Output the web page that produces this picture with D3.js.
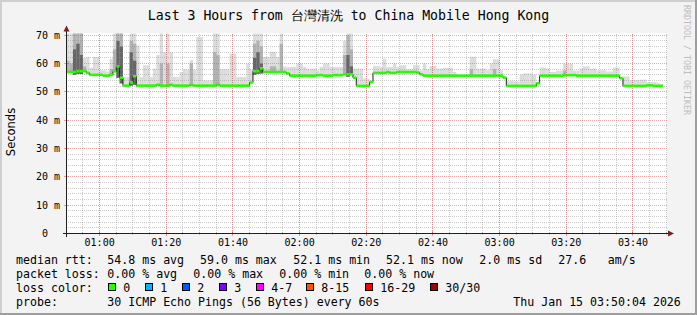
<!DOCTYPE html>
<html>
<head>
<meta charset="utf-8">
<script src="https://cdn.jsdelivr.net/npm/d3@7"></script>
<style>
  body { margin: 0; background: #f3f3f3; }
  svg { display: block; }
  text { font-family: "DejaVu Sans Mono", monospace; fill: #000; }
</style>
</head>
<body>
<svg width="697" height="315"></svg>
<script>
// time window: 00:50 - 03:50, one value per minute
const START = new Date(2026, 0, 15, 0, 50);
const END = new Date(2026, 0, 15, 3, 50);

// median rtt per minute (ms)
const median = [
  57.0, 57.0, 57.0, 57.3, 57.3, 57.3, 56.7, 56.0, 56.0, 56.0,
  56.0, 55.7, 55.7, 56.0, 57.2, 59.0, 55.0, 52.2, 52.2, 53.3,
  55.5, 52.2, 52.2, 52.2, 52.2, 52.2, 52.2, 52.5, 52.2, 52.2,
  52.2, 52.5, 52.2, 52.2, 52.2, 52.2, 52.2, 52.5, 52.2, 52.2,
  52.2, 52.2, 52.2, 52.2, 52.2, 52.5, 52.2, 52.2, 52.2, 52.2,
  52.2, 52.2, 52.2, 52.2, 52.2, 53.3, 57.3, 57.3, 58.3, 57.0,
  57.0, 57.0, 57.0, 57.0, 57.0, 57.0, 56.5, 55.7, 55.7, 55.7,
  55.7, 55.7, 55.7, 55.7, 55.7, 55.9, 55.9, 55.7, 55.7, 55.7,
  55.9, 55.9, 55.9, 56.2, 56.2, 56.2, 55.0, 52.1, 52.1, 52.1,
  52.1, 53.5, 56.7, 56.7, 56.7, 56.7, 57.0, 56.7, 56.7, 57.0,
  57.0, 57.0, 57.0, 57.0, 57.0, 56.8, 56.2, 55.7, 55.7, 55.7,
  55.7, 55.7, 55.7, 55.7, 55.7, 55.7, 55.7, 55.7, 55.7, 55.7,
  55.7, 55.7, 55.7, 55.7, 55.7, 55.7, 55.7, 55.7, 55.7, 55.7,
  55.7, 55.0, 52.1, 52.1, 52.1, 52.1, 52.1, 52.1, 52.1, 52.1,
  52.1, 53.0, 55.7, 55.7, 55.7, 55.7, 55.7, 55.7, 55.7, 55.9,
  55.9, 55.9, 55.9, 55.7, 55.7, 55.7, 55.7, 55.7, 55.7, 55.7,
  55.7, 55.7, 55.7, 55.7, 55.7, 55.7, 54.8, 52.1, 52.1, 52.1,
  52.1, 52.1, 52.1, 52.1, 52.3, 52.3, 52.1, 52.1, 52.1
];

// top of the light smoke (slowest pings) per minute
const smokeHi = [
  70.6, 70.6, 71, 71, 71, 62, 62.3, 58.5, 62.3, 62.3,
  57.6, 57.6, 57.2, 61.7, 71, 71, 71, 55.3, 55.3, 71,
  71, 66.4, 55.3, 59.4, 59.4, 55.3, 58.2, 63, 70.6, 64,
  70.6, 64, 55.3, 55.3, 57, 57.9, 57.9, 61.2, 57.9, 69.4,
  69.4, 54, 54, 54, 70.6, 70.6, 58, 58, 58, 63.5,
  63.5, 55.3, 55.3, 55.3, 60, 58, 71, 71, 71, 62.3,
  62.3, 64.1, 64.1, 62.3, 71, 59, 58.8, 58.8, 58.8, 60,
  60, 58.8, 58.2, 58.2, 58.2, 57.5, 58.8, 60, 60, 58.8,
  58.8, 58.8, 58.8, 68, 71, 71, 58.2, 58.2, 58.2, 54.7,
  54.7, 53.5, 59.1, 59.1, 58.8, 61.7, 58.8, 58.8, 60, 58.8,
  59.4, 59.4, 58, 58, 59.4, 59.4, 57.6, 60, 58, 59.1,
  59.1, 58.2, 58.2, 58.5, 58.5, 58.5, 57, 56, 56, 56,
  56, 62.4, 62.4, 58.2, 58.2, 58.2, 57.6, 60, 61.5, 61.5,
  57.6, 55.5, 53.9, 53.9, 53.8, 53.7, 56.1, 56.5, 56.5, 56.5,
  56.1, 53.5, 58.6, 58.6, 58.2, 57, 57, 57.5, 57.5, 60,
  60, 60, 57.5, 57.5, 58.2, 59, 59, 58.2, 58.2, 57.5,
  57.6, 57.6, 57.2, 57.2, 58.6, 58.6, 55.3, 55.5, 55.5, 54.1,
  54.1, 54.3, 54.3, 54.3, 53.5, 53.5, 53.5, 53.2, 52.8
];

// [minute, top] of the medium and dark smoke bands
const smokeMid = [
  [0, 61], [1, 60], [2, 71], [3, 71], [4, 71], [5, 59], [13, 58], [14, 65],
  [15, 71], [16, 71], [19, 68], [20, 67], [28, 60], [30, 60], [37, 60],
  [44, 64], [45, 63], [56, 67], [57, 68], [58, 66], [61, 59], [62, 59],
  [64, 67], [83, 63], [84, 70], [85, 65], [121, 58], [128, 58], [149, 57.5]
];
const smokeDark = [
  [2, 65], [3, 67], [4, 63], [15, 68], [16, 66], [19, 64], [20, 61],
  [56, 62], [57, 64], [58, 60], [84, 63], [85, 59]
];
// [minute, bottom] where the fastest pings sit below the median
const smokeLo = [
  [2, 56], [3, 56.3], [4, 56.3], [15, 55], [16, 53], [19, 52.2], [20, 52.5],
  [56, 56], [57, 56.3], [58, 56.5], [84, 55.3]
];

const yTicks = [0, 10, 20, 30, 40, 50, 60, 70];
const yTickLabels = ["0", "10 m", "20 m", "30 m", "40 m", "50 m", "60 m", "70 m"];

const lossLabels = ["0", "1", "2", "3", "4-7", "8-15", "16-29", "30/30"];
const lossColors = ["#26ff00", "#00b8ff", "#0059ff", "#7e00ff", "#ff00ff", "#ff5500", "#ff0000", "#a00000"];

const rttStats = ["54.8 ms avg", "59.0 ms max", "52.1 ms min", "52.1 ms now", "2.0 ms sd", "27.6", "am/s"];
const lossStats = ["0.00 % avg", "0.00 % max", "0.00 % min", "0.00 % now"];
const probeText = "30 ICMP Echo Pings (56 Bytes) every 60s";
const dateText = "Thu Jan 15 03:50:04 2026";

const svg = d3.select("svg");
const W = 697, H = 315;
const plot = { left: 66.3, right: 666.3, top: 33.5, bottom: 233.5 };

const xScale = d3.scaleTime().domain([START, END]).range([plot.left, plot.right]);
const yScale = d3.scaleLinear().domain([0, 70.6]).range([plot.bottom, plot.top]);
const minute = (m) => new Date(START.getTime() + m * 60000);
const xm = (m) => xScale(minute(m));
const px = (v) => Math.floor(v) + 0.5;

// background + 3d frame
svg.append("rect").attr("width", W).attr("height", H).attr("fill", "#f3f3f3");
svg.append("rect").attr("width", W).attr("height", 2).attr("fill", "#cfcfcf");
svg.append("rect").attr("width", 2).attr("height", H).attr("fill", "#cfcfcf");
svg.append("rect").attr("y", H - 2).attr("width", W).attr("height", 2).attr("fill", "#9e9e9e");
svg.append("rect").attr("x", W - 2).attr("width", 2).attr("height", H).attr("fill", "#9e9e9e");

// canvas
svg.append("rect")
  .attr("x", 66).attr("y", 33)
  .attr("width", 601).attr("height", 201)
  .attr("fill", "#fff");

// smoke
const g = svg.append("g");
const loOf = new Map(smokeLo);
const band = (list, color) => {
  g.append("g").selectAll("rect")
    .data(list)
    .enter()
    .append("rect")
    .attr("x", (d) => xm(d[0]))
    .attr("width", (d) => xm(d[0] + 1) - xm(d[0]))
    .attr("y", (d) => yScale(Math.min(d[1], 70.6)))
    .attr("height", (d) => {
      const lo = loOf.has(d[0]) ? loOf.get(d[0]) : median[d[0]];
      return Math.max(0, yScale(lo) - yScale(Math.min(d[1], 70.6)));
    })
    .attr("fill", color);
};
band(smokeHi.map((v, i) => [i, v]), "#dcdcdc");
band(smokeMid, "#b2b2b2");
band(smokeDark, "#666666");

// grid
const grid = svg.append("g").attr("shape-rendering", "crispEdges");
const minorX = d3.timeMinute.every(5).range(minute(5), minute(181));
const majorX = d3.timeMinute.every(20).range(minute(10), END);
const minorY = d3.range(2, 71, 2);
const gridGray = "rgba(143,143,143,0.45)";
const gridRed = "rgba(222,80,80,0.5)";

grid.selectAll(".gx").data(minorX).enter().append("line")
  .attr("x1", (d) => px(xScale(d))).attr("x2", (d) => px(xScale(d)))
  .attr("y1", plot.top).attr("y2", plot.bottom)
  .attr("stroke", gridGray).attr("stroke-dasharray", "1,1");
grid.selectAll(".gy").data(minorY.filter((d) => d % 10 !== 0)).enter().append("line")
  .attr("y1", (d) => px(yScale(d))).attr("y2", (d) => px(yScale(d)))
  .attr("x1", plot.left).attr("x2", plot.right + 1)
  .attr("stroke", gridGray).attr("stroke-dasharray", "1,1");
grid.selectAll(".mx").data(majorX).enter().append("line")
  .attr("x1", (d) => px(xScale(d))).attr("x2", (d) => px(xScale(d)))
  .attr("y1", plot.top).attr("y2", plot.bottom)
  .attr("stroke", gridRed).attr("stroke-dasharray", "1,1");
grid.selectAll(".my").data(yTicks.slice(1)).enter().append("line")
  .attr("y1", (d) => px(yScale(d))).attr("y2", (d) => px(yScale(d)))
  .attr("x1", plot.left).attr("x2", plot.right + 1)
  .attr("stroke", gridRed).attr("stroke-dasharray", "1,1");

// axis ticks
grid.selectAll(".tx").data(minorX).enter().append("line")
  .attr("x1", (d) => px(xScale(d))).attr("x2", (d) => px(xScale(d)))
  .attr("y1", 232).attr("y2", 235).attr("stroke", gridGray);
grid.selectAll(".tmx").data(majorX).enter().append("line")
  .attr("x1", (d) => px(xScale(d))).attr("x2", (d) => px(xScale(d)))
  .attr("y1", 231).attr("y2", 236).attr("stroke", gridRed);
grid.selectAll(".ty").data(yTicks.slice(1)).enter().append("line")
  .attr("y1", (d) => px(yScale(d))).attr("y2", (d) => px(yScale(d)))
  .attr("x1", 64).attr("x2", 69).attr("stroke", gridRed);

// median: dark step line, then the loss-coloured band on top
const stepPts = median.map((v, i) => [i, v]).concat([[median.length, median[median.length - 1]]]);
svg.append("path")
  .attr("d", d3.line().x((d) => xm(d[0])).y((d) => yScale(d[1])).curve(d3.curveStepAfter)(stepPts))
  .attr("fill", "none").attr("stroke", "#202020").attr("stroke-width", 1);
svg.append("g").selectAll("rect")
  .data(median)
  .enter()
  .append("rect")
  .attr("x", (d, i) => xm(i))
  .attr("width", (d, i) => xm(i + 1) - xm(i))
  .attr("y", (d) => yScale(d) - 1.3)
  .attr("height", 2.6)
  .attr("fill", lossColors[0]);

// axes + arrows
const axis = svg.append("g").attr("shape-rendering", "crispEdges");
axis.append("line").attr("x1", 63).attr("x2", 669).attr("y1", 233.5).attr("y2", 233.5).attr("stroke", "#1f1f1f");
axis.append("line").attr("x1", 66.5).attr("x2", 66.5).attr("y1", 237).attr("y2", 30).attr("stroke", "#1f1f1f");
svg.append("path").attr("d", "M668,230.5 L674,233.5 L668,236.5 Z").attr("fill", "#7f1f1f");
svg.append("path").attr("d", "M63.5,31.5 L66.5,25.5 L69.5,31.5 Z").attr("fill", "#7f1f1f");

// tick labels
svg.append("g").selectAll("text")
  .data(majorX)
  .enter()
  .append("text")
  .attr("x", (d) => xScale(d))
  .attr("y", 246.3)
  .attr("text-anchor", "middle")
  .attr("font-size", 10)
  .text(d3.timeFormat("%H:%M"));
svg.append("g").selectAll("text")
  .data(yTicks)
  .enter()
  .append("text")
  .attr("x", (d, i) => (i === 0 ? 48 : 60))
  .attr("y", (d) => yScale(d) + 3.6)
  .attr("text-anchor", "end")
  .attr("font-size", 10)
  .text((d, i) => yTickLabels[i]);

// title, axis label, watermark
svg.append("text")
  .attr("x", 348.5).attr("y", 20)
  .attr("text-anchor", "middle")
  .attr("font-size", 13.2)
  .text("Last 3 Hours from 台灣清洗 to China Mobile Hong Kong");
svg.append("text")
  .attr("transform", "translate(14.5,132) rotate(-90)")
  .attr("text-anchor", "middle")
  .style("font-family", "'DejaVu Sans', sans-serif")
  .attr("font-size", 11.5)
  .text("Seconds");
svg.append("text")
  .attr("transform", "translate(683.5,5) rotate(90)")
  .attr("font-size", 8.3)
  .style("fill", "#bdbdbd")
  .text("RRDTOOL / TOBI OETIKER");

// legend
const lg = svg.append("g").attr("font-size", 11.6);
const rowY = [263.5, 277.5, 291.5, 305.5];
const rttX = [107.3, 200, 293.3, 386, 479.3, 558.3, 607.7];
const lossX = [107.3, 193.3, 279.3, 364.3];
const boxX = [108.5, 145.5, 182.5, 219.5, 256.5, 306.5, 365.5, 430.5];

lg.append("text").attr("x", 16).attr("y", rowY[0]).text("median rtt:");
rttStats.forEach((s, i) => lg.append("text").attr("x", rttX[i]).attr("y", rowY[0]).text(s));
lg.append("text").attr("x", 16).attr("y", rowY[1]).text("packet loss:");
lossStats.forEach((s, i) => lg.append("text").attr("x", lossX[i]).attr("y", rowY[1]).text(s));
lg.append("text").attr("x", 16).attr("y", rowY[2]).text("loss color:");
lg.selectAll("rect")
  .data(lossColors)
  .enter()
  .append("rect")
  .attr("x", (d, i) => boxX[i])
  .attr("y", 283.5)
  .attr("width", 7)
  .attr("height", 7)
  .attr("fill", (d) => d)
  .attr("stroke", "#000");
lg.selectAll(".ll")
  .data(lossLabels)
  .enter()
  .append("text")
  .attr("x", (d, i) => boxX[i] + 14.8)
  .attr("y", rowY[2])
  .text((d) => d);
lg.append("text").attr("x", 16).attr("y", rowY[3]).text("probe:");
lg.append("text").attr("x", 107.3).attr("y", rowY[3]).text(probeText);
lg.append("text").attr("x", 513.3).attr("y", rowY[3]).text(dateText);
</script>
</body>
</html>
